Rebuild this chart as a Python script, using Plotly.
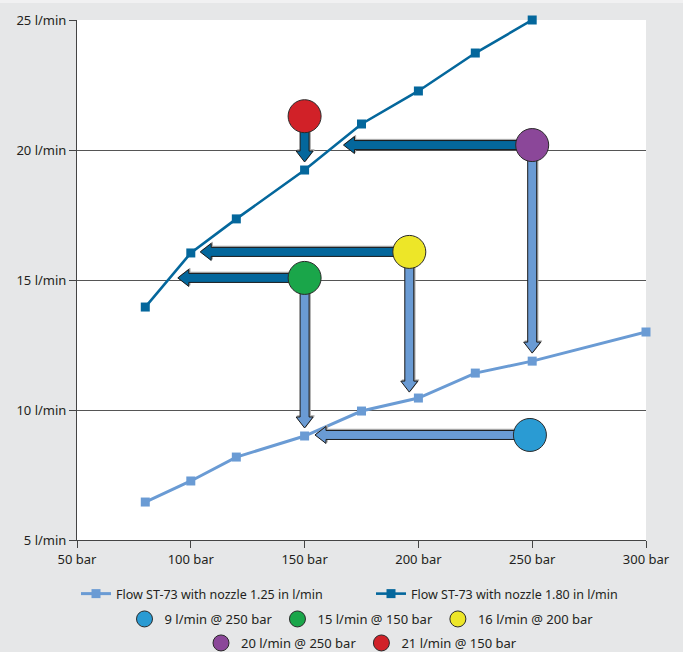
import numpy as np
import plotly.graph_objects as go

# ---------------- data ----------------
pressure_125 = [80, 100, 120, 150, 175, 200, 225, 250, 300]
flow_125 = [6.46, 7.27, 8.19, 9.0, 9.96, 10.46, 11.42, 11.88, 13.0]

pressure_180 = [80, 100, 120, 150, 175, 200, 225, 250]
flow_180 = [13.96, 16.04, 17.35, 19.23, 21.0, 22.27, 23.73, 25.0]

series_names = ["Flow ST-73 with nozzle 1.25 in l/min", "Flow ST-73 with nozzle 1.80 in l/min"]
series_legend = ["legend", "legend4"]

circle_labels = ["9 l/min @ 250 bar", "15 l/min @ 150 bar", "16 l/min @ 200 bar",
                 "20 l/min @ 250 bar", "21 l/min @ 150 bar"]
circle_x = [249, 150, 196, 250, 150]
circle_y = [9.04, 15.08, 16.08, 20.19, 21.3]
circle_colors = ["#2a9bd3", "#1aa64a", "#ede628", "#8b4799", "#d12128"]
circle_legend = ["legend2", "legend2", "legend2", "legend3", "legend3"]

# arrows: (circle index, direction, target series)
arrows = [
    (0, "left", "125"),
    (1, "left", "180"), (1, "down", "125"),
    (2, "left", "180"), (2, "down", "125"),
    (3, "left", "180"), (3, "down", "125"),
    (4, "down", "180"),
]

x_ticks = [50, 100, 150, 200, 250, 300]
y_ticks = [5, 10, 15, 20, 25]
x_tick_text = [f"{v} bar" for v in x_ticks]
y_tick_text = [f"{v} l/min" for v in y_ticks]

# ---------------- layout geometry ----------------
W, H = 683, 652
ML, MR, MT, MB = 77, 37, 20, 112
PW, PH = W - ML - MR, H - MT - MB
XR, YR = (50, 300), (5, 25)
sx = PW / (XR[1] - XR[0])
sy = PH / (YR[1] - YR[0])

LIGHT = "#6a9bd4"
DARK = "#04679c"

series = {"125": (pressure_125, flow_125, LIGHT), "180": (pressure_180, flow_180, DARK)}


def to_px(x, y):
    return (x - XR[0]) * sx, (y - YR[0]) * sy


def to_data(px, py):
    return px / sx + XR[0], py / sy + YR[0]


def block_arrow(p0, p1, shaft=4.5, head=8.5, head_len=11):
    (x0, y0), (x1, y1) = p0, p1
    d = np.array([x1 - x0, y1 - y0], dtype=float)
    L = np.linalg.norm(d)
    u = d / L
    n = np.array([-u[1], u[0]])
    s = np.array([x0, y0]); t = np.array([x1, y1])
    b = t - u * head_len
    pts = [s + n * shaft, b + n * shaft, b + n * head, t,
           b - n * head, b - n * shaft, s - n * shaft, s + n * shaft]
    return [p[0] for p in pts], [p[1] for p in pts]


fig = go.Figure()

# series lines
for key, name, lg in zip(["125", "180"], series_names, series_legend):
    xs, ys, col = series[key]
    fig.add_trace(go.Scatter(
        x=xs, y=ys, name=name, mode="lines+markers",
        line=dict(color=col, width=3 if key == "125" else 2.6),
        marker=dict(symbol="square", size=9, color=col),
        cliponaxis=False, legend=lg, hoverinfo="skip"))

# arrows
GAP = 8
for ci, direction, skey in arrows:
    xs, ys, col = series[skey]
    cx, cy = circle_x[ci], circle_y[ci]
    spx, spy = to_px(cx, cy)
    if direction == "left":
        tx = np.interp(cy, ys, xs)
        tpx, _ = to_px(tx, cy)
        tip = (tpx + GAP, spy)
    else:
        ty = np.interp(cx, xs, ys)
        _, tpy = to_px(cx, ty)
        tip = (spx, tpy + GAP)
    # shadow
    ax, ay = block_arrow((spx + 1.2, spy + 1.2), (tip[0] + 1.2, tip[1] + 1.2))
    dx, dy = zip(*[to_data(a, b) for a, b in zip(ax, ay)])
    fig.add_trace(go.Scatter(x=dx, y=dy, mode="lines", fill="toself",
                             fillcolor="#a8a8a8", line=dict(color="#a8a8a8", width=1),
                             showlegend=False, hoverinfo="skip", cliponaxis=False))
    ax, ay = block_arrow((spx, spy), tip)
    dx, dy = zip(*[to_data(a, b) for a, b in zip(ax, ay)])
    fig.add_trace(go.Scatter(x=dx, y=dy, mode="lines", fill="toself",
                             fillcolor=col, line=dict(color="#1a1a1a", width=1),
                             showlegend=False, hoverinfo="skip", cliponaxis=False))

# circles
for lab, x, y, c, lg in zip(circle_labels, circle_x, circle_y, circle_colors, circle_legend):
    fig.add_trace(go.Scatter(
        x=[x], y=[y], name=lab, mode="markers",
        marker=dict(size=33, color=c, line=dict(color="#2a2a2a", width=1)),
        legend=lg, cliponaxis=False, hoverinfo="skip"))

FONT = dict(family="Noto Sans", size=13, color="#231f20")
leg_common = dict(orientation="h", yanchor="middle", yref="container",
                  bgcolor="rgba(0,0,0,0)", itemsizing="trace")
leg_center = dict(xanchor="center", x=0.5, **leg_common)
leg_left = dict(xanchor="left", xref="container", **leg_common)

fig.update_layout(
    width=W, height=H,
    margin=dict(l=ML, r=MR, t=MT, b=MB, autoexpand=False),
    paper_bgcolor="#e6e7e8", plot_bgcolor="white",
    font=FONT,
    xaxis=dict(range=list(XR), tickmode="array", tickvals=x_ticks, ticktext=x_tick_text,
               showgrid=False, showline=True, linecolor="#444", linewidth=1,
               ticks="outside", ticklen=7, tickcolor="#444", zeroline=False,
               fixedrange=True),
    yaxis=dict(range=list(YR), tickmode="array", tickvals=y_ticks, ticktext=y_tick_text,
               showgrid=True, gridcolor="#555", gridwidth=1, showline=True,
               linecolor="#444", linewidth=1, ticks="outside", ticklen=7,
               tickcolor="#444", zeroline=False, fixedrange=True),
    legend=dict(y=58 / H, x=76 / W, font=dict(FONT, size=12.5), **leg_left),
    legend4=dict(y=58 / H, x=371 / W, font=dict(FONT, size=12.5), **leg_left),
    legend2=dict(y=33 / H, font=FONT, **leg_center),
    legend3=dict(y=9 / H, font=FONT, **leg_center),
    showlegend=True,
    shapes=[dict(type="rect", xref="paper", yref="paper", layer="below",
                 x0=-ML / PW, x1=1 + MR / PW, y0=1 + (MT - 3) / PH, y1=1 + MT / PH,
                 fillcolor="#f1f1f2", line=dict(width=0))],
)

fig.write_html("out.html", config={"displayModeBar": False},
               post_script="document.body.style.margin='0';document.body.style.background='#e6e7e8';")
